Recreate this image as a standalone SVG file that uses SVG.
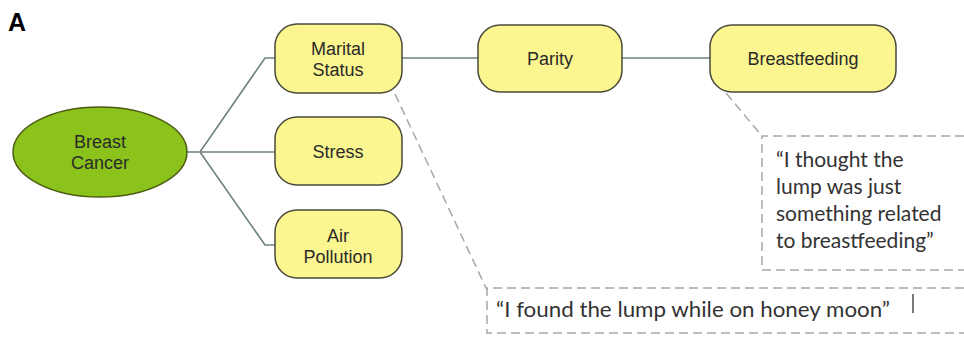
<svg xmlns="http://www.w3.org/2000/svg" width="964" height="337" viewBox="0 0 964 337">
<style>
.node{fill:#fbf68f;stroke:#4a4a3a;stroke-width:1.5}
.nt{font-family:"Liberation Sans",Arial,sans-serif;font-size:18px;fill:#2a2a2a;text-anchor:middle}
.conn{fill:none;stroke:#6e8181;stroke-width:1.6}
.dash{fill:none;stroke:#a8a8a8;stroke-width:1.5;stroke-dasharray:9 5}
.q{font-family:Lato,"Open Sans",sans-serif;font-size:21px;fill:#333}
</style>
<rect width="964" height="337" fill="#fff"/>
<text x="8" y="31" font-family="Liberation Sans,Arial,sans-serif" font-size="25" font-weight="bold" fill="#000">A</text>
<g id="connectors">
<polyline class="conn" points="187,152 200,152 265,58 275,58"/>
<line class="conn" x1="200" y1="152" x2="275" y2="152"/>
<polyline class="conn" points="200,152 265,245 275,245"/>
<line class="conn" x1="402" y1="58" x2="478" y2="58"/>
<line class="conn" x1="622" y1="58" x2="710" y2="58"/>
<polyline class="dash" points="395,94 487,290"/>
<polyline class="dash" points="726,93 762,136"/>
</g>
<g id="breast-cancer">
<ellipse cx="100" cy="152" rx="87" ry="45" fill="#8cc21c" stroke="#4b5c12" stroke-width="1.5"/>
<text class="nt" x="100" y="148">Breast</text>
<text class="nt" x="100" y="169">Cancer</text>
</g>
<g id="marital-status">
<rect class="node" x="275" y="24" width="127" height="69" rx="22"/>
<text class="nt" x="338" y="55">Marital</text>
<text class="nt" x="338" y="76">Status</text>
</g>
<g id="stress">
<rect class="node" x="275" y="117" width="127" height="68" rx="22"/>
<text class="nt" x="338" y="158">Stress</text>
</g>
<g id="air-pollution">
<rect class="node" x="275" y="210" width="127" height="68" rx="22"/>
<text class="nt" x="338" y="242">Air</text>
<text class="nt" x="338" y="263">Pollution</text>
</g>
<g id="parity">
<rect class="node" x="478" y="25" width="144" height="67" rx="22"/>
<text class="nt" x="550" y="65">Parity</text>
</g>
<g id="breastfeeding">
<rect class="node" x="710" y="25" width="186" height="67" rx="22"/>
<text class="nt" x="803" y="65">Breastfeeding</text>
</g>
<g id="quote-breastfeeding">
<path class="dash" d="M964,136 H762 V270 H964"/>
<text class="q" x="776" y="167">“I thought the</text>
<text class="q" x="776" y="194">lump was just</text>
<text class="q" x="776" y="221">something related</text>
<text class="q" x="776" y="248">to breastfeeding”</text>
</g>
<g id="quote-honeymoon">
<path class="dash" d="M964,288 H487 V333 H964"/>
<text class="q" x="496" y="317" textLength="394" lengthAdjust="spacingAndGlyphs">“I found the lump while on honey moon”</text>
<line x1="913" y1="294" x2="913" y2="313" stroke="#333" stroke-width="1.3"/>
</g>
</svg>
